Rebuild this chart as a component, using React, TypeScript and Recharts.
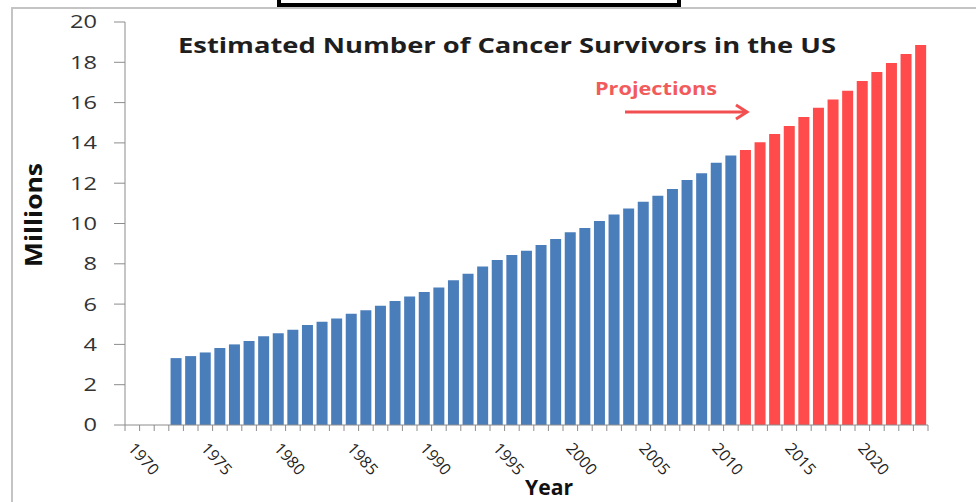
import { BarChart, Bar, Cell, XAxis, YAxis } from 'recharts';

// Survivors in millions, by year
const firstYear = 1970;
const lastYear = 2024;
const estimatedStart = 1973;
const estimatedMillions = [
  3.32, 3.42, 3.6, 3.82, 4.0, 4.17, 4.4, 4.55, 4.73, 4.96,
  5.13, 5.29, 5.52, 5.69, 5.92, 6.15, 6.38, 6.6, 6.83, 7.18,
  7.51, 7.86, 8.19, 8.44, 8.65, 8.93, 9.23, 9.56, 9.78, 10.12,
  10.45, 10.75, 11.08, 11.38, 11.71, 12.16, 12.5, 13.02, 13.37,
];
const projectedStart = 2012;
const projectedMillions = [
  13.65, 14.03, 14.44, 14.84, 15.29, 15.75, 16.15, 16.59, 17.07, 17.52, 17.97, 18.41, 18.86,
];
const yTicks = [0, 2, 4, 6, 8, 10, 12, 14, 16, 18, 20];

const years = Array.from({ length: lastYear - firstYear + 1 }, (_, i) => firstYear + i);

const rows = years.map((year) => {
  const e = year - estimatedStart;
  const p = year - projectedStart;
  let millions: number | null = null;
  let projected = false;
  if (e >= 0 && e < estimatedMillions.length) millions = estimatedMillions[e];
  if (p >= 0 && p < projectedMillions.length) {
    millions = projectedMillions[p];
    projected = true;
  }
  return { year, millions, projected };
});

const W = 976;
const H = 502;
const LEFT = 125;
const RIGHT = 928;
const TOP = 22;
const BOTTOM = 425;
const band = (RIGHT - LEFT) / years.length;

const BLUE = '#4A7EBB';
const RED = '#FF4B4B';
const AXIS = '#8C8C8C';
const FONT = '"Open Sans", sans-serif';

function YearTick(props: any) {
  const { x, y, payload, index } = props;
  const year = payload.value as number;
  const left = x - band / 2;
  return (
    <g>
      <line x1={left} x2={left} y1={y} y2={y + 6} stroke={AXIS} />
      {index === years.length - 1 ? (
        <line x1={x + band / 2} x2={x + band / 2} y1={y} y2={y + 6} stroke={AXIS} />
      ) : null}
      {year % 5 === 0 ? (
        <text
          x={x - 5}
          y={y + 24}
          transform={`rotate(48 ${x - 5} ${y + 24})`}
          fontSize={16}
          fontFamily={FONT}
          fill="#222"
        >
          {year}
        </text>
      ) : null}
    </g>
  );
}

function MillionsTick(props: any) {
  const { x, y, payload } = props;
  const label = String(payload.value);
  return (
    <text
      x={x}
      y={y}
      dy="0.36em"
      textAnchor="end"
      fontSize={18}
      fontFamily={FONT}
      fill="#333"
      textLength={label.length * 13.5}
      lengthAdjust="spacingAndGlyphs"
    >
      {label}
    </text>
  );
}

export default function App() {
  return (
    <div style={{ position: 'absolute', left: 0, top: 0, width: W, height: H, background: '#fff' }}>
      <BarChart
        width={W}
        height={H}
        data={rows}
        margin={{ top: TOP, right: W - RIGHT, bottom: 0, left: 0 }}
        barCategoryGap="12%"
      >
        <XAxis
          dataKey="year"
          height={H - BOTTOM}
          interval={0}
          tickSize={0}
          tickMargin={0}
          tickLine={false}
          axisLine={{ stroke: AXIS }}
          tick={<YearTick />}
        />
        <YAxis
          width={LEFT}
          domain={[0, 20]}
          ticks={yTicks}
          tickSize={11}
          tickMargin={17}
          tickLine={{ stroke: AXIS }}
          axisLine={{ stroke: AXIS }}
          tick={<MillionsTick />}
        />
        <Bar dataKey="millions" isAnimationActive={false}>
          {rows.map((r) => (
            <Cell key={r.year} fill={r.projected ? RED : BLUE} />
          ))}
        </Bar>
      </BarChart>
      <svg
        width={W}
        height={H}
        style={{ position: 'absolute', left: 0, top: 0, pointerEvents: 'none' }}
      >
        <path d={`M12 ${H} V8 H${W}`} fill="none" stroke="#C4C4C4" strokeWidth={2} />
        <rect x={279} y={-20} width={400} height={25} fill="#fff" stroke="#000" strokeWidth={4} />
        <text
          x={178}
          y={53}
          fontSize={21}
          fontWeight={700}
          fontFamily={FONT}
          fill="#1E1E1E"
          textLength={658}
          lengthAdjust="spacingAndGlyphs"
        >
          Estimated Number of Cancer Survivors in the US
        </text>
        <text
          x={595}
          y={95}
          fontSize={17}
          fontWeight={700}
          fontFamily={FONT}
          fill="#F25B5B"
          textLength={122}
          lengthAdjust="spacingAndGlyphs"
        >
          Projections
        </text>
        <line x1={625} y1={112} x2={746} y2={112} stroke="#F24F50" strokeWidth={3} />
        <polyline
          points="736,105 747,112 736,119"
          fill="none"
          stroke="#F24F50"
          strokeWidth={3}
        />
        <text
          x={42}
          y={215}
          transform="rotate(-90 42 215)"
          textAnchor="middle"
          fontSize={23}
          fontWeight={700}
          fontFamily={FONT}
          fill="#111"
          textLength={104}
          lengthAdjust="spacingAndGlyphs"
        >
          Millions
        </text>
        <text
          x={525}
          y={495}
          fontSize={22}
          fontWeight={700}
          fontFamily={FONT}
          fill="#111"
          textLength={48}
          lengthAdjust="spacingAndGlyphs"
        >
          Year
        </text>
      </svg>
    </div>
  );
}
